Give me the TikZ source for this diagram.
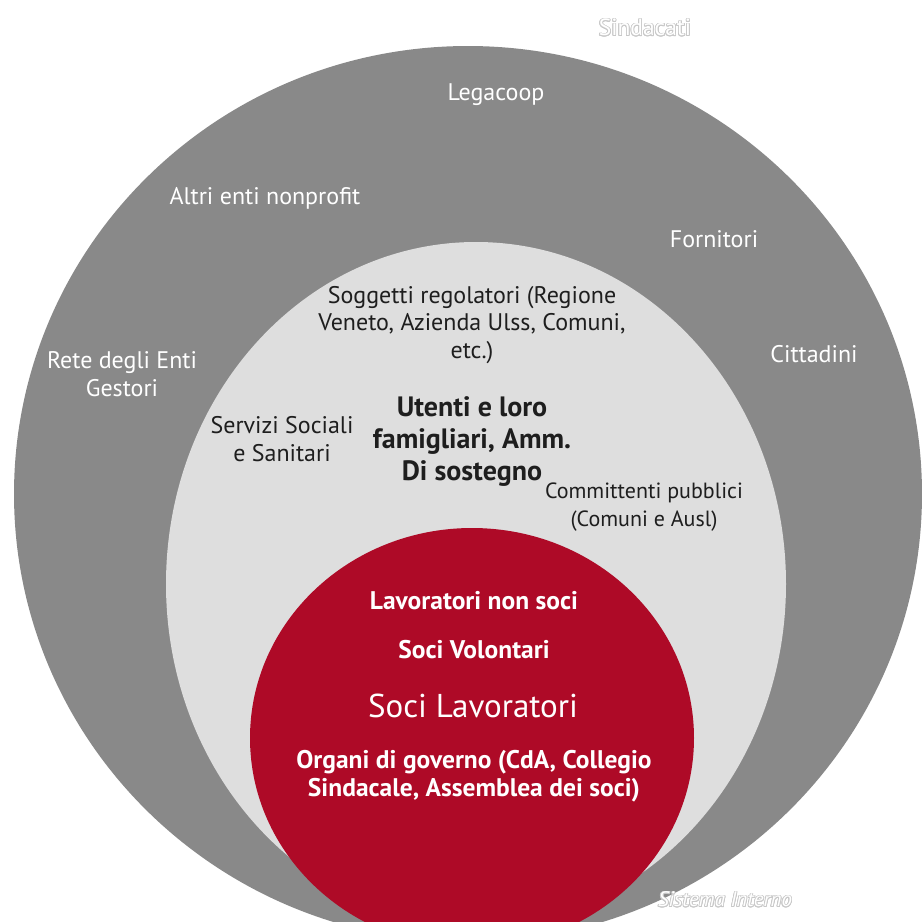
\documentclass[tikz,border=0pt]{standalone}
\usepackage{fontspec}
\setmainfont{PT Sans}
\usepackage{contour}
\contourlength{0.8pt}
\definecolor{outergray}{HTML}{898989}
\definecolor{innergray}{HTML}{DEDEDE}
\definecolor{corered}{HTML}{AE0A27}
\definecolor{darktext}{HTML}{1E1E1E}
\definecolor{ghost}{HTML}{C8C8C8}
\begin{document}
\begin{tikzpicture}[x=1pt,y=-1pt,
  lbl/.style={align=center, inner sep=0pt, font=\fontsize{24}{27.5}\selectfont},
  wlbl/.style={lbl, text=white},
  dlbl/.style={lbl, text=darktext},
  rlbl/.style={align=center, inner sep=0pt, text=white, font=\bfseries\fontsize{25.5}{28}\selectfont},
  glbl/.style={align=center, inner sep=0pt, font=\fontsize{23.5}{26}\selectfont},
]
\useasboundingbox (0,0) rectangle (922,922);
\begin{scope}
\clip (0,0) rectangle (922,922);
\fill[outergray] (468,494) ellipse [x radius=454pt, y radius=448pt];
\fill[innergray] (476,584) ellipse [x radius=310pt, y radius=342pt];
\fill[corered] (472,738) ellipse [x radius=222pt, y radius=210pt];
\end{scope}
% outside labels
\node[glbl] (sind) at (645,28) {\contour{ghost}{\textcolor{white}{Sindacati}}};
\node[glbl, font=\itshape\fontsize{21}{24}\selectfont] (sist) at (725,900) {\contour{ghost}{\textcolor{white}{Sistema Interno}}};
% outer ring
\node[wlbl] (lega) at (496,95) {Legacoop};
\node[wlbl] (altri) at (265,198) {Altri enti nonprofit};
\node[wlbl] (forn) at (714,239) {Fornitori};
\node[wlbl] (rete) at (122,374) {Rete degli Enti\\Gestori};
\node[wlbl] (citt) at (814,354) {Cittadini};
% inner ring
\node[dlbl] (sogg) at (472,325) {Soggetti regolatori (Regione\\Veneto, Azienda Ulss, Comuni,\\etc.)};
\node[dlbl] (serv) at (282,439) {Servizi Sociali\\e Sanitari};
\node[dlbl, font=\bfseries\fontsize{28}{32}\selectfont] (uten) at (472,442) {Utenti e loro\\famigliari, Amm.\\Di sostegno};
\node[dlbl, font=\fontsize{22}{28}\selectfont] (comm) at (644,507) {Committenti pubblici\\(Comuni e Ausl)};
% core
\node[rlbl] (lavn) at (474,601) {Lavoratori non soci};
\node[rlbl] (volo) at (474,650) {Soci Volontari};
\node[rlbl, font=\fontsize{33}{36}\selectfont] (lavs) at (473,706) {Soci Lavoratori};
\node[rlbl] (orga) at (474,776) {Organi di governo (CdA, Collegio\\Sindacale, Assemblea dei soci)};
\end{tikzpicture}
\end{document}
